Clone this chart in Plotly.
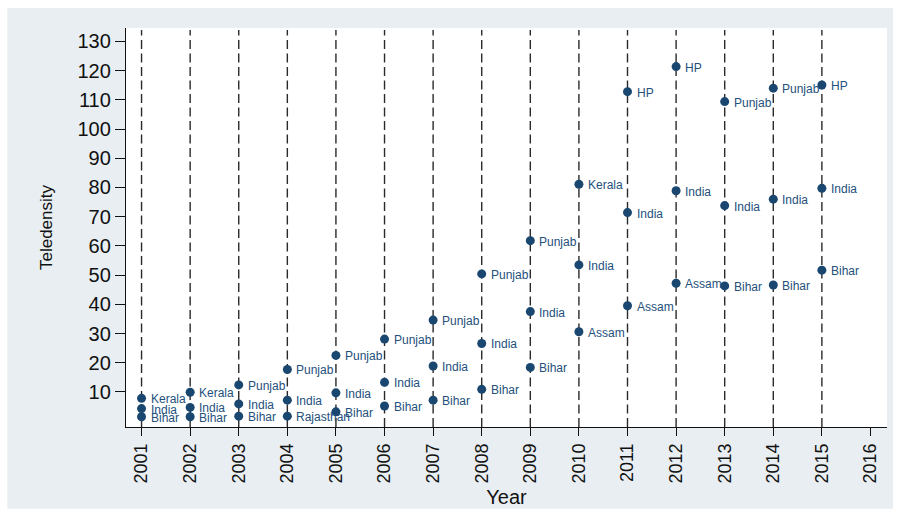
import plotly.graph_objects as go

# Teledensity by year: highest state, all-India and lowest state
years = [2001, 2002, 2003, 2004, 2005, 2006, 2007, 2008, 2009, 2010, 2011, 2012, 2013, 2014, 2015]

top_state = ["Kerala", "Kerala", "Punjab", "Punjab", "Punjab", "Punjab", "Punjab", "Punjab",
             "Punjab", "Kerala", "HP", "HP", "Punjab", "Punjab", "HP"]
top_value = [7.8, 9.9, 12.4, 17.7, 22.5, 28.1, 34.6, 50.4, 61.8, 81.1, 112.8, 121.4, 109.4, 114.0, 115.1]

india_label = ["India"] * len(years)
india_value = [4.3, 4.7, 5.9, 7.2, 9.7, 13.3, 18.9, 26.6, 37.5, 53.5, 71.4, 78.9, 73.8, 76.0, 79.7]

low_state = ["Bihar", "Bihar", "Bihar", "Rajasthan", "Bihar", "Bihar", "Bihar", "Bihar",
             "Bihar", "Assam", "Assam", "Assam", "Bihar", "Bihar", "Bihar"]
low_value = [1.5, 1.5, 1.7, 1.7, 3.2, 5.2, 7.2, 10.9, 18.4, 30.6, 39.5, 47.2, 46.3, 46.6, 51.7]

x_ticks = list(range(2001, 2017))
y_ticks = list(range(10, 140, 10))

NAVY = "#1a476f"
LABEL = "#24507c"
FONT = "Arial, Liberation Sans, sans-serif"

fig = go.Figure()

# tinted chart frame, then the white plot region on top of it
fig.add_shape(type="rect", xref="paper", yref="paper", x0=-0.156, x1=1.008, y0=-0.205, y1=1.05,
              fillcolor="#e8eef1", line=dict(width=0), layer="below")
fig.add_shape(type="rect", xref="paper", yref="paper", x0=0, x1=1, y0=0, y1=1,
              fillcolor="#ffffff", line=dict(width=0), layer="below")

# one vertical dashed reference line per observed year
for yr in years:
    fig.add_shape(type="line", xref="x", yref="paper", x0=yr, x1=yr, y0=0, y1=0.995,
                  line=dict(color="#2a2a2a", width=1.4, dash="9px,4.5px"), layer="below")

series = [(top_state, top_value), (india_label, india_value), (low_state, low_value)]
for labels, values in series:
    fig.add_trace(go.Scatter(
        x=years, y=values, mode="markers",
        marker=dict(size=9, color=NAVY),
        hoverinfo="skip", showlegend=False,
    ))
    for yr, v, name in zip(years, values, labels):
        fig.add_annotation(x=yr, y=v, text=name, showarrow=False,
                           xanchor="left", yanchor="middle", xshift=7, yshift=-1,
                           font=dict(family=FONT, size=12, color=LABEL))

fig.update_layout(
    width=898, height=520,
    margin=dict(l=126, r=11, t=28, b=93),
    paper_bgcolor="#ffffff",
    plot_bgcolor="rgba(0,0,0,0)",
    font=dict(family=FONT, color="#111111"),
    showlegend=False,
)

fig.update_xaxes(
    range=[2000.68, 2016.34], tickmode="array", tickvals=x_ticks,
    ticktext=[str(t) for t in x_ticks], tickangle=-90,
    ticks="outside", ticklen=8, tickwidth=1.3, tickcolor="#111",
    showline=True, linecolor="#111", linewidth=1.4, showgrid=False, zeroline=False,
    tickfont=dict(family=FONT, size=18, color="#111"),
    title=dict(text="Year", font=dict(family=FONT, size=20, color="#111"), standoff=7),
)
fig.update_yaxes(
    range=[-2.0, 134.6], tickmode="array", tickvals=y_ticks,
    ticks="outside", ticklen=10, tickwidth=1.3, tickcolor="#111",
    showline=True, linecolor="#111", linewidth=1.4, showgrid=False, zeroline=False,
    tickfont=dict(family=FONT, size=20, color="#111"),
    title=dict(text="Teledensity", font=dict(family=FONT, size=17, color="#111"), standoff=20),
)

fig.write_html("out.html")
